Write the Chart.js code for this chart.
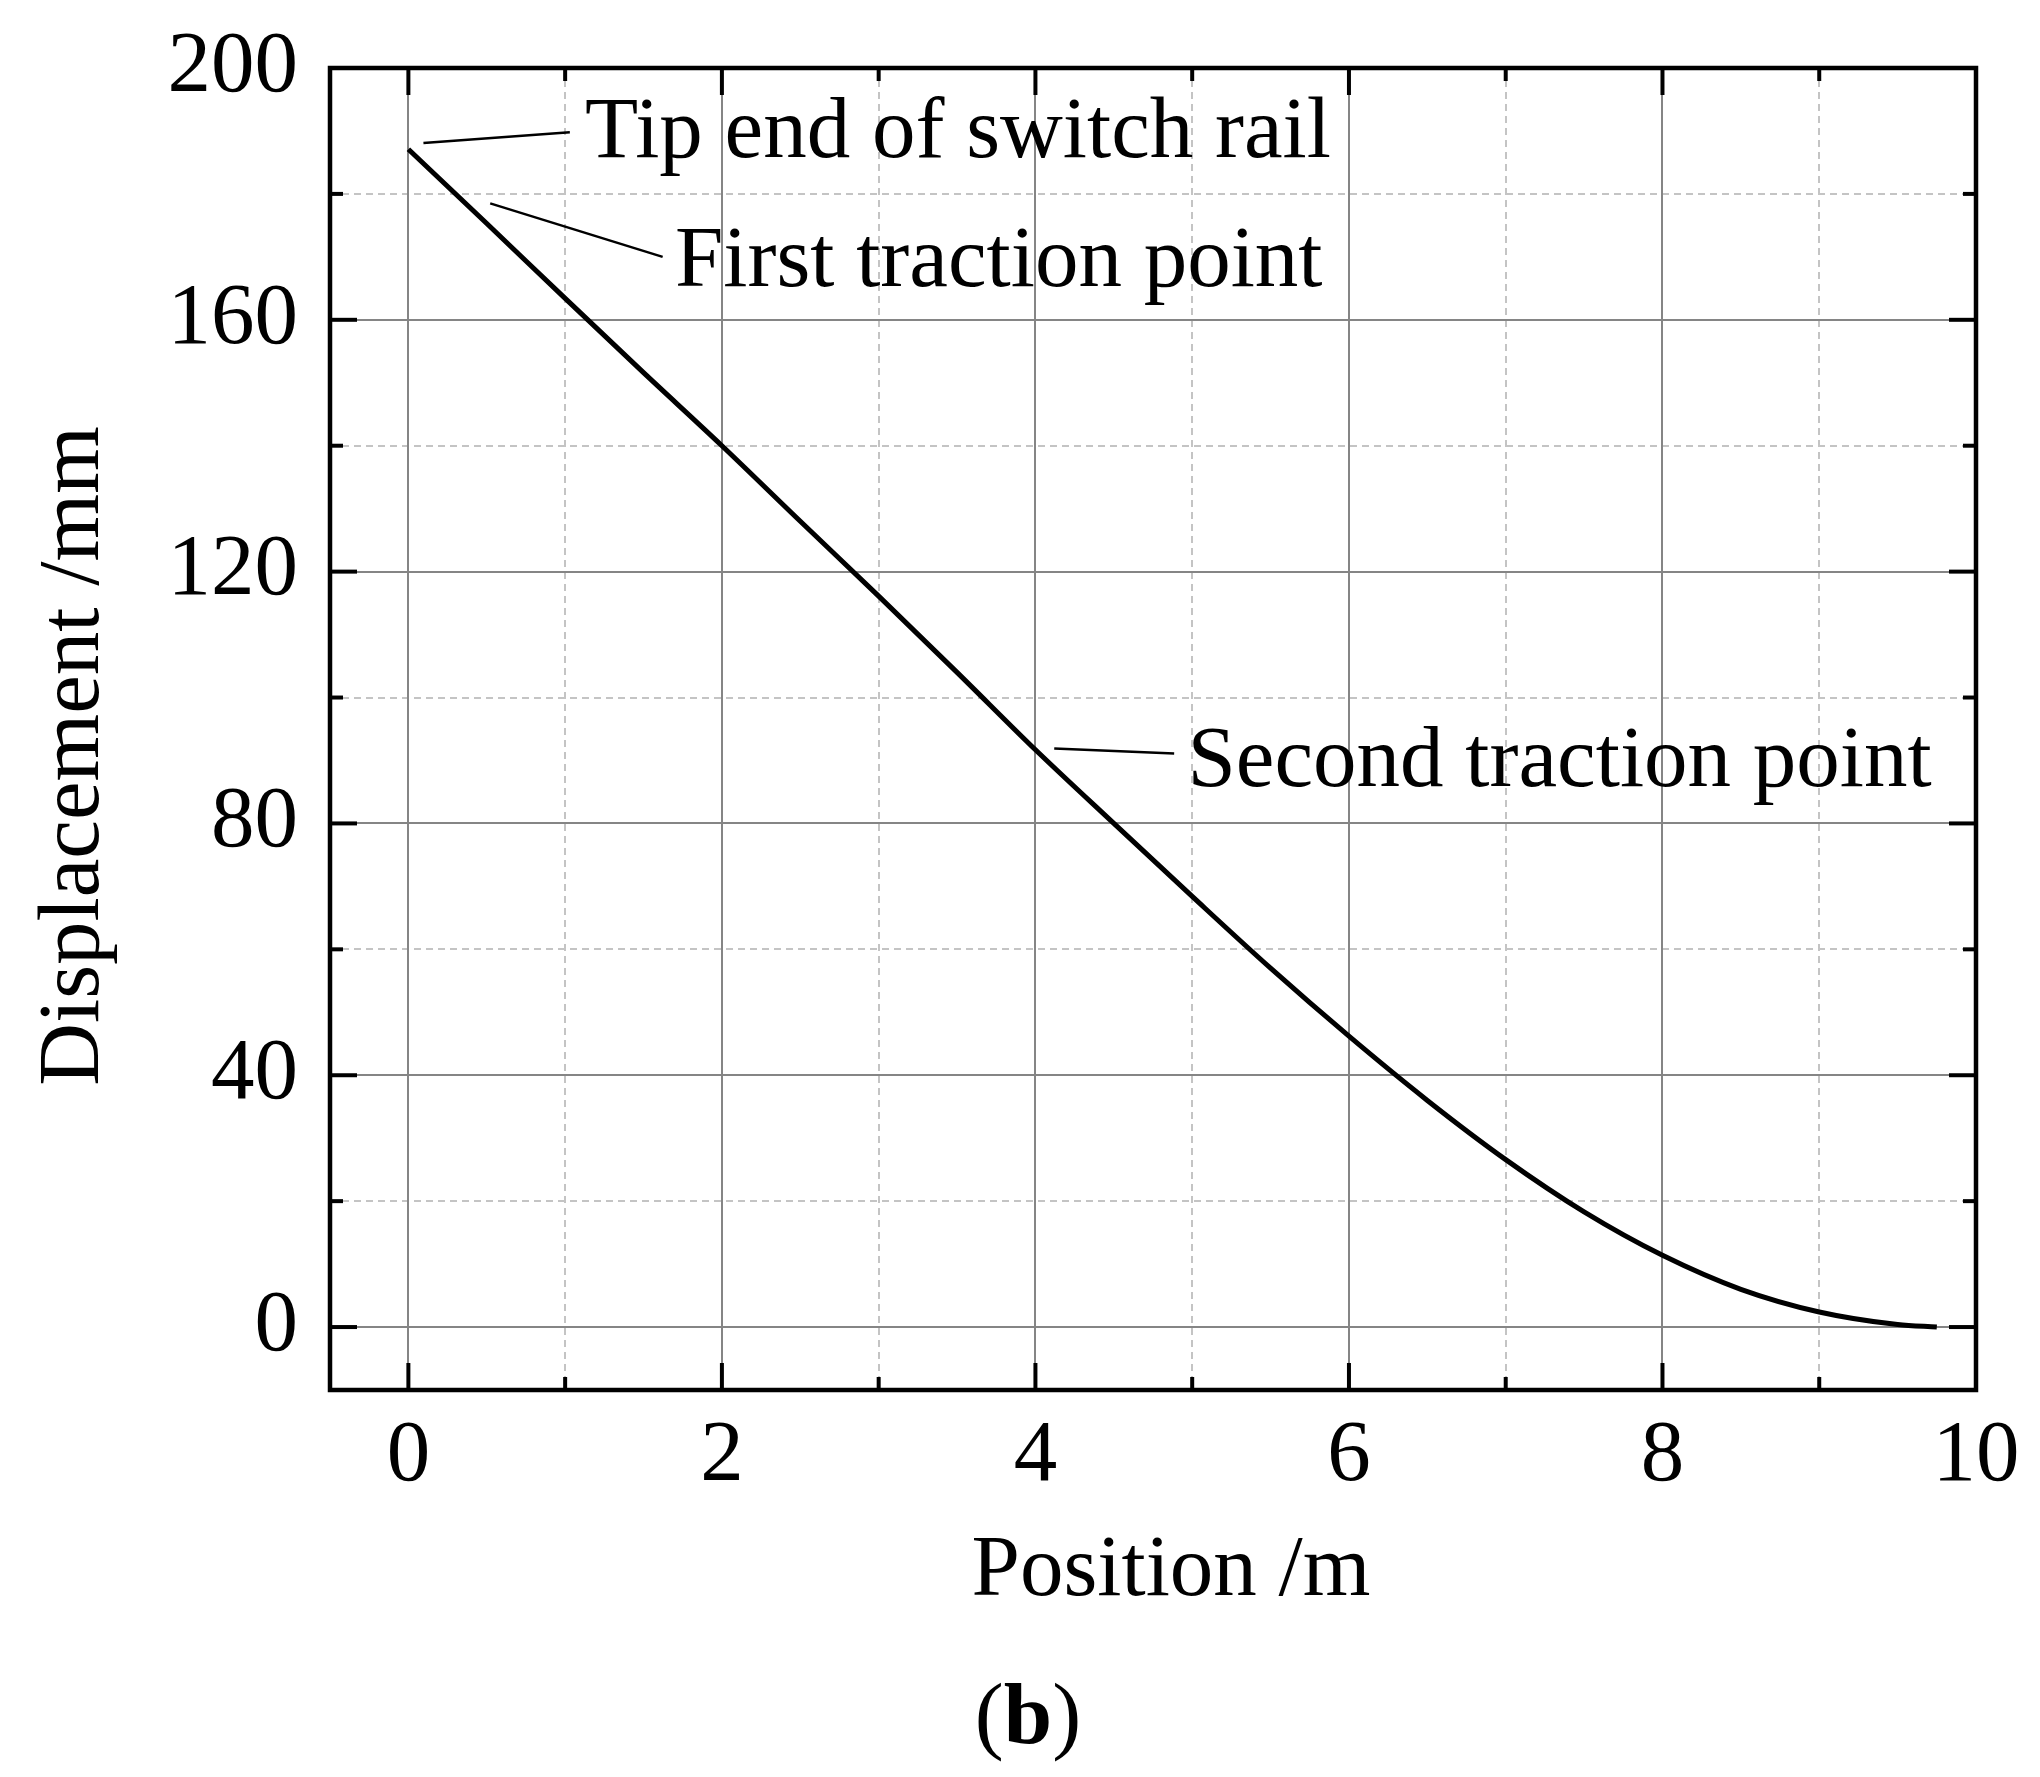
<!DOCTYPE html>
<html><head><meta charset="utf-8">
<script src="https://cdn.jsdelivr.net/npm/chart.js@4/dist/chart.umd.min.js"></script>
<style>html,body{margin:0;padding:0;background:#fff;}#wrap{width:2040px;height:1777px;position:relative;}</style>
</head><body><div id="wrap"><canvas id="c" width="2040" height="1777"></canvas></div>
<script>
// ---- data ----
const positions    = [0, 0.5, 1, 1.5, 2, 2.5, 3, 3.5, 4, 4.5, 5, 5.5, 6, 6.5, 7, 7.5, 8, 8.5, 9, 9.5, 9.75];
const displacement = [187.1, 175.3, 163.4, 151.6, 140, 128, 116.1, 104, 91.7, 80, 68.4, 57, 46.2, 36, 26.6, 18.3, 11.4, 6, 2.4, 0.4, 0];
const xTickValues  = [0, 1, 2, 3, 4, 5, 6, 7, 8, 9, 10];
const xTickLabels  = ['0', '', '2', '', '4', '', '6', '', '8', '', '10'];
const yTickValues  = [0, 20, 40, 60, 80, 100, 120, 140, 160, 180, 200];
const yTickLabels  = ['0', '', '40', '', '80', '', '120', '', '160', '', '200'];
const xTitle = 'Position /m';
const yTitle = 'Displacement /mm';
const annoTexts = ['Tip end of switch rail', 'First traction point', 'Second traction point'];
const annoLineFrom = [[0.096, 188.1], [0.522, 178.5], [4.12, 91.9]];
const annoLineTo   = [[1.03, 189.8], [1.622, 170.0], [4.885, 91.1]];
const annoTextAt   = [[1.127, 185.8], [1.70, 165.4], [4.97, 85.9]];
const panelLabel = 'b';

const FONT = '"Liberation Serif", "Times New Roman", serif';
const FS = 87;

const decor = {
  id: 'decor',
  beforeDatasetsDraw(chart) {
    const ctx = chart.ctx, a = chart.chartArea, xs = chart.scales.x, ys = chart.scales.y;
    ctx.save();
    ctx.lineWidth = 2;
    ctx.strokeStyle = '#c4c4c4';
    ctx.setLineDash([7, 5]);
    xTickValues.forEach((v, i) => { if (xTickLabels[i] === '') { const p = Math.round(xs.getPixelForValue(v)); ctx.beginPath(); ctx.moveTo(p, a.top); ctx.lineTo(p, a.bottom); ctx.stroke(); } });
    yTickValues.forEach((v, i) => { if (yTickLabels[i] === '') { const p = Math.round(ys.getPixelForValue(v)); ctx.beginPath(); ctx.moveTo(a.left, p); ctx.lineTo(a.right, p); ctx.stroke(); } });
    ctx.setLineDash([]);
    ctx.strokeStyle = '#858585';
    xTickValues.forEach((v, i) => { if (xTickLabels[i] !== '') { const p = Math.round(xs.getPixelForValue(v)); ctx.beginPath(); ctx.moveTo(p, a.top); ctx.lineTo(p, a.bottom); ctx.stroke(); } });
    yTickValues.forEach((v, i) => { if (yTickLabels[i] !== '') { const p = Math.round(ys.getPixelForValue(v)); ctx.beginPath(); ctx.moveTo(a.left, p); ctx.lineTo(a.right, p); ctx.stroke(); } });
    ctx.restore();
  },
  afterDatasetsDraw(chart) {
    const ctx = chart.ctx, a = chart.chartArea, xs = chart.scales.x, ys = chart.scales.y;
    ctx.save();
    ctx.strokeStyle = '#000';
    ctx.lineWidth = 4;
    xTickValues.forEach((v, i) => {
      const p = xs.getPixelForValue(v), L = xTickLabels[i] === '' ? 13 : 27;
      ctx.beginPath(); ctx.moveTo(p, a.bottom); ctx.lineTo(p, a.bottom - L); ctx.stroke();
      ctx.beginPath(); ctx.moveTo(p, a.top); ctx.lineTo(p, a.top + L); ctx.stroke();
    });
    yTickValues.forEach((v, i) => {
      const p = ys.getPixelForValue(v), L = yTickLabels[i] === '' ? 13 : 27;
      ctx.beginPath(); ctx.moveTo(a.left, p); ctx.lineTo(a.left + L, p); ctx.stroke();
      ctx.beginPath(); ctx.moveTo(a.right, p); ctx.lineTo(a.right - L, p); ctx.stroke();
    });
    ctx.lineWidth = 4.5;
    ctx.strokeRect(a.left, a.top, a.right - a.left, a.bottom - a.top);
    ctx.lineWidth = 2.5;
    ctx.fillStyle = '#000';
    ctx.font = FS + 'px ' + FONT;
    ctx.textAlign = 'left'; ctx.textBaseline = 'alphabetic';
    annoTexts.forEach((t, i) => {
      ctx.beginPath();
      ctx.moveTo(xs.getPixelForValue(annoLineFrom[i][0]), ys.getPixelForValue(annoLineFrom[i][1]));
      ctx.lineTo(xs.getPixelForValue(annoLineTo[i][0]), ys.getPixelForValue(annoLineTo[i][1]));
      ctx.stroke();
      ctx.fillText(t, xs.getPixelForValue(annoTextAt[i][0]), ys.getPixelForValue(annoTextAt[i][1]));
    });
    ctx.textAlign = 'center';
    ctx.fillText(xTitle, (a.left + a.right) / 2 + 18, a.bottom + 205);
    ctx.save();
    ctx.translate(98, (a.top + a.bottom) / 2 + 27);
    ctx.rotate(-Math.PI / 2);
    ctx.fillText(yTitle, 0, 0);
    ctx.restore();
    const cx = 1028, by = 1743;
    ctx.font = FS + 'px ' + FONT;
    const wo = ctx.measureText('(').width, wc = ctx.measureText(')').width;
    ctx.font = 'bold ' + FS + 'px ' + FONT;
    const wb = ctx.measureText(panelLabel).width;
    let x0 = cx - (wo + wb + wc) / 2;
    ctx.textAlign = 'left';
    ctx.font = FS + 'px ' + FONT; ctx.fillText('(', x0, by);
    ctx.font = 'bold ' + FS + 'px ' + FONT; ctx.fillText(panelLabel, x0 + wo, by);
    ctx.font = FS + 'px ' + FONT; ctx.fillText(')', x0 + wo + wb, by);
    ctx.restore();
  }
};

new Chart(document.getElementById('c'), {
  type: 'line',
  data: { datasets: [{
    data: positions.map((x, i) => ({ x: x, y: displacement[i] })),
    borderColor: '#000', borderWidth: 5, pointRadius: 0,
    cubicInterpolationMode: 'monotone', fill: false
  }] },
  options: {
    responsive: false, animation: false, devicePixelRatio: 1,
    layout: { padding: { top: 68, right: 64, left: 0, bottom: 0 } },
    plugins: { legend: { display: false }, tooltip: { enabled: false } },
    scales: {
      x: {
        type: 'linear', min: -0.5, max: 10,
        afterBuildTicks: s => { s.ticks = xTickValues.map(v => ({ value: v })); },
        afterFit: s => { s.height = 1777 - 1390; s.paddingLeft = 0; s.paddingRight = 0; },
        grid: { display: false, drawTicks: false }, border: { display: false },
        ticks: { autoSkip: false, maxRotation: 0, padding: 15, color: '#000',
          font: { family: FONT, size: FS },
          callback: (v) => { const i = xTickValues.indexOf(v); return i >= 0 ? xTickLabels[i] : ''; } }
      },
      y: {
        type: 'linear', min: -10, max: 200,
        afterBuildTicks: s => { s.ticks = yTickValues.map(v => ({ value: v })); },
        afterFit: s => { s.width = 330; s.paddingTop = 0; s.paddingBottom = 0; },
        grid: { display: false, drawTicks: false }, border: { display: false },
        ticks: { autoSkip: false, padding: 32, color: '#000',
          font: { family: FONT, size: FS },
          callback: (v) => { const i = yTickValues.indexOf(v); return i >= 0 ? yTickLabels[i] : ''; } }
      }
    }
  },
  plugins: [decor]
});
</script></body></html>
